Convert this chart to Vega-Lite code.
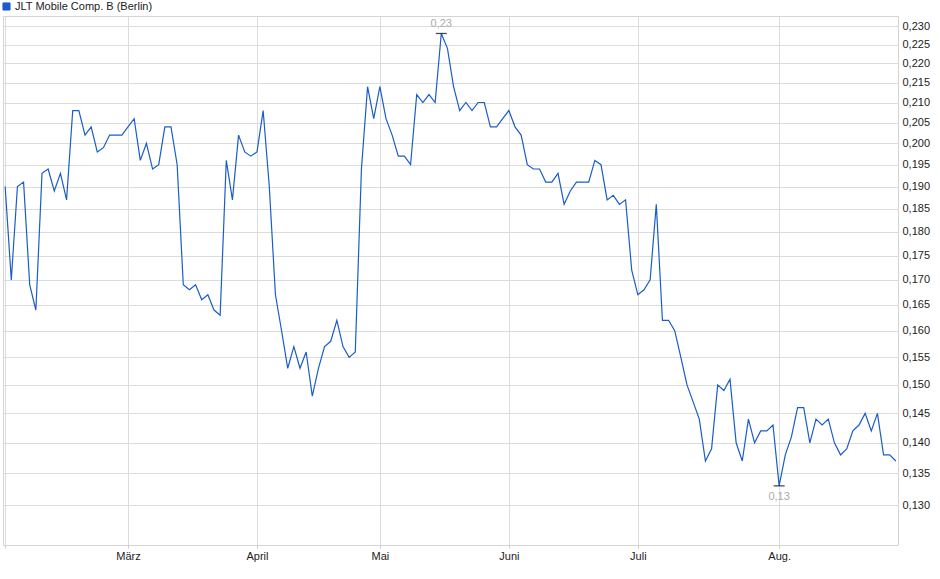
{
  "$schema": "https://vega.github.io/schema/vega-lite/v6.json",
  "width": 895,
  "height": 529,
  "autosize": {"type": "none"},
  "padding": {"left": 3, "top": 16, "right": 42, "bottom": 34},
  "background": "white",
  "config": {
    "font": "Liberation Sans",
    "view": {"stroke": "#d4d4d4"},
    "axis": {
      "labelFont": "Liberation Sans",
      "labelFontSize": 11,
      "labelColor": "#222222",
      "gridColor": "#dcdcdc",
      "gridWidth": 1,
      "domain": false
    }
  },
  "data": {
    "values": [
      {"date": "2025-02-03", "close": 0.190},
      {"date": "2025-02-04", "close": 0.170},
      {"date": "2025-02-05", "close": 0.190},
      {"date": "2025-02-06", "close": 0.191},
      {"date": "2025-02-07", "close": 0.169},
      {"date": "2025-02-10", "close": 0.164},
      {"date": "2025-02-11", "close": 0.193},
      {"date": "2025-02-12", "close": 0.194},
      {"date": "2025-02-13", "close": 0.189},
      {"date": "2025-02-14", "close": 0.193},
      {"date": "2025-02-17", "close": 0.187},
      {"date": "2025-02-18", "close": 0.208},
      {"date": "2025-02-19", "close": 0.208},
      {"date": "2025-02-20", "close": 0.202},
      {"date": "2025-02-21", "close": 0.204},
      {"date": "2025-02-24", "close": 0.198},
      {"date": "2025-02-25", "close": 0.199},
      {"date": "2025-02-26", "close": 0.202},
      {"date": "2025-02-27", "close": 0.202},
      {"date": "2025-02-28", "close": 0.202},
      {"date": "2025-03-03", "close": 0.204},
      {"date": "2025-03-04", "close": 0.206},
      {"date": "2025-03-05", "close": 0.196},
      {"date": "2025-03-06", "close": 0.200},
      {"date": "2025-03-07", "close": 0.194},
      {"date": "2025-03-10", "close": 0.195},
      {"date": "2025-03-11", "close": 0.204},
      {"date": "2025-03-12", "close": 0.204},
      {"date": "2025-03-13", "close": 0.195},
      {"date": "2025-03-14", "close": 0.169},
      {"date": "2025-03-17", "close": 0.168},
      {"date": "2025-03-18", "close": 0.169},
      {"date": "2025-03-19", "close": 0.166},
      {"date": "2025-03-20", "close": 0.167},
      {"date": "2025-03-21", "close": 0.164},
      {"date": "2025-03-24", "close": 0.163},
      {"date": "2025-03-25", "close": 0.196},
      {"date": "2025-03-26", "close": 0.187},
      {"date": "2025-03-27", "close": 0.202},
      {"date": "2025-03-28", "close": 0.198},
      {"date": "2025-03-31", "close": 0.197},
      {"date": "2025-04-01", "close": 0.198},
      {"date": "2025-04-02", "close": 0.208},
      {"date": "2025-04-03", "close": 0.190},
      {"date": "2025-04-04", "close": 0.167},
      {"date": "2025-04-07", "close": 0.160},
      {"date": "2025-04-08", "close": 0.153},
      {"date": "2025-04-09", "close": 0.157},
      {"date": "2025-04-10", "close": 0.153},
      {"date": "2025-04-11", "close": 0.156},
      {"date": "2025-04-14", "close": 0.148},
      {"date": "2025-04-15", "close": 0.153},
      {"date": "2025-04-16", "close": 0.157},
      {"date": "2025-04-17", "close": 0.158},
      {"date": "2025-04-22", "close": 0.162},
      {"date": "2025-04-23", "close": 0.157},
      {"date": "2025-04-24", "close": 0.155},
      {"date": "2025-04-25", "close": 0.156},
      {"date": "2025-04-28", "close": 0.194},
      {"date": "2025-04-29", "close": 0.214},
      {"date": "2025-04-30", "close": 0.206},
      {"date": "2025-05-02", "close": 0.214},
      {"date": "2025-05-05", "close": 0.206},
      {"date": "2025-05-06", "close": 0.202},
      {"date": "2025-05-07", "close": 0.197},
      {"date": "2025-05-08", "close": 0.197},
      {"date": "2025-05-09", "close": 0.195},
      {"date": "2025-05-12", "close": 0.212},
      {"date": "2025-05-13", "close": 0.210},
      {"date": "2025-05-14", "close": 0.212},
      {"date": "2025-05-15", "close": 0.210},
      {"date": "2025-05-16", "close": 0.228},
      {"date": "2025-05-19", "close": 0.224},
      {"date": "2025-05-20", "close": 0.214},
      {"date": "2025-05-21", "close": 0.208},
      {"date": "2025-05-22", "close": 0.210},
      {"date": "2025-05-23", "close": 0.208},
      {"date": "2025-05-26", "close": 0.210},
      {"date": "2025-05-27", "close": 0.210},
      {"date": "2025-05-28", "close": 0.204},
      {"date": "2025-05-29", "close": 0.204},
      {"date": "2025-05-30", "close": 0.206},
      {"date": "2025-06-02", "close": 0.208},
      {"date": "2025-06-03", "close": 0.204},
      {"date": "2025-06-04", "close": 0.202},
      {"date": "2025-06-05", "close": 0.195},
      {"date": "2025-06-06", "close": 0.194},
      {"date": "2025-06-09", "close": 0.194},
      {"date": "2025-06-10", "close": 0.191},
      {"date": "2025-06-11", "close": 0.191},
      {"date": "2025-06-12", "close": 0.193},
      {"date": "2025-06-13", "close": 0.186},
      {"date": "2025-06-16", "close": 0.189},
      {"date": "2025-06-17", "close": 0.191},
      {"date": "2025-06-18", "close": 0.191},
      {"date": "2025-06-19", "close": 0.191},
      {"date": "2025-06-20", "close": 0.196},
      {"date": "2025-06-23", "close": 0.195},
      {"date": "2025-06-24", "close": 0.187},
      {"date": "2025-06-25", "close": 0.188},
      {"date": "2025-06-26", "close": 0.186},
      {"date": "2025-06-27", "close": 0.187},
      {"date": "2025-06-30", "close": 0.172},
      {"date": "2025-07-01", "close": 0.167},
      {"date": "2025-07-02", "close": 0.168},
      {"date": "2025-07-03", "close": 0.170},
      {"date": "2025-07-04", "close": 0.186},
      {"date": "2025-07-07", "close": 0.162},
      {"date": "2025-07-08", "close": 0.162},
      {"date": "2025-07-09", "close": 0.160},
      {"date": "2025-07-10", "close": 0.155},
      {"date": "2025-07-11", "close": 0.150},
      {"date": "2025-07-14", "close": 0.147},
      {"date": "2025-07-15", "close": 0.144},
      {"date": "2025-07-16", "close": 0.137},
      {"date": "2025-07-17", "close": 0.139},
      {"date": "2025-07-18", "close": 0.150},
      {"date": "2025-07-21", "close": 0.149},
      {"date": "2025-07-22", "close": 0.151},
      {"date": "2025-07-23", "close": 0.140},
      {"date": "2025-07-24", "close": 0.137},
      {"date": "2025-07-25", "close": 0.144},
      {"date": "2025-07-28", "close": 0.140},
      {"date": "2025-07-29", "close": 0.142},
      {"date": "2025-07-30", "close": 0.142},
      {"date": "2025-07-31", "close": 0.143},
      {"date": "2025-08-01", "close": 0.133},
      {"date": "2025-08-04", "close": 0.138},
      {"date": "2025-08-05", "close": 0.141},
      {"date": "2025-08-06", "close": 0.146},
      {"date": "2025-08-07", "close": 0.146},
      {"date": "2025-08-08", "close": 0.140},
      {"date": "2025-08-11", "close": 0.144},
      {"date": "2025-08-12", "close": 0.143},
      {"date": "2025-08-13", "close": 0.144},
      {"date": "2025-08-14", "close": 0.140},
      {"date": "2025-08-15", "close": 0.138},
      {"date": "2025-08-18", "close": 0.139},
      {"date": "2025-08-19", "close": 0.142},
      {"date": "2025-08-20", "close": 0.143},
      {"date": "2025-08-21", "close": 0.145},
      {"date": "2025-08-22", "close": 0.142},
      {"date": "2025-08-25", "close": 0.145},
      {"date": "2025-08-26", "close": 0.138},
      {"date": "2025-08-27", "close": 0.138},
      {"date": "2025-08-28", "close": 0.137}
    ]
  },
  "encoding": {
    "x": {
      "field": "date",
      "type": "ordinal",
      "scale": {"type": "point", "padding": 0.35},
      "axis": {
        "title": null,
        "values": ["2025-02-03", "2025-03-03", "2025-04-01", "2025-05-02", "2025-06-02", "2025-07-01", "2025-08-01"],
        "labelExpr": "['', '', '', 'März', 'April', 'Mai', 'Juni', 'Juli', 'Aug.'][toNumber(slice(datum.value, 5, 7))]",
        "labelAngle": 0,
        "labelPadding": 2,
        "grid": true,
        "ticks": true,
        "tickSize": 3,
        "tickColor": "#cccccc"
      }
    },
    "y": {
      "field": "close",
      "type": "quantitative",
      "scale": {"type": "log", "domain": [0.12395, 0.2328], "nice": false},
      "axis": {
        "orient": "right",
        "title": null,
        "values": [0.13, 0.135, 0.14, 0.145, 0.15, 0.155, 0.16, 0.165, 0.17, 0.175, 0.18, 0.185, 0.19, 0.195, 0.2, 0.205, 0.21, 0.215, 0.22, 0.225, 0.23],
        "labelExpr": "replace(format(datum.value, '.3f'), '.', ',')",
        "grid": true,
        "ticks": false,
        "labelPadding": 4
      }
    }
  },
  "layer": [
    {
      "mark": {"type": "line", "strokeWidth": 1.2, "interpolate": "linear"},
      "encoding": {
        "color": {
          "datum": "JLT Mobile Comp. B (Berlin)",
          "type": "nominal",
          "scale": {"range": ["#1a5dc8"]},
          "legend": {
            "title": null,
            "orient": "none",
            "legendX": -2,
            "legendY": -15,
            "padding": 0,
            "symbolType": "square",
            "symbolSize": 50,
            "labelFontSize": 11,
            "labelColor": "#222222",
            "labelOffset": 3,
            "encode": {
              "symbols": {
                "update": {
                  "fill": {"value": "#1a5dc8"},
                  "stroke": {"value": "#0b2a6e"},
                  "strokeWidth": {"value": 1}
                }
              }
            }
          }
        }
      }
    },
    {
      "transform": [
        {"joinaggregate": [{"op": "max", "field": "close", "as": "hi"}]},
        {"filter": "datum.close == datum.hi"}
      ],
      "layer": [
        {"mark": {"type": "tick", "orient": "horizontal", "size": 11, "thickness": 1.3, "color": "black"}},
        {
          "mark": {
            "type": "text",
            "dy": -9,
            "fontSize": 11,
            "color": "#aaaaaa",
            "text": {"expr": "replace(format(datum.close, '.2f'), '.', ',')"}
          }
        }
      ]
    },
    {
      "transform": [
        {"joinaggregate": [{"op": "min", "field": "close", "as": "lo"}]},
        {"filter": "datum.close == datum.lo"}
      ],
      "layer": [
        {"mark": {"type": "tick", "orient": "horizontal", "size": 11, "thickness": 1.3, "color": "black"}},
        {
          "mark": {
            "type": "text",
            "dy": 11,
            "fontSize": 11,
            "color": "#aaaaaa",
            "text": {"expr": "replace(format(datum.close, '.2f'), '.', ',')"}
          }
        }
      ]
    }
  ]
}
